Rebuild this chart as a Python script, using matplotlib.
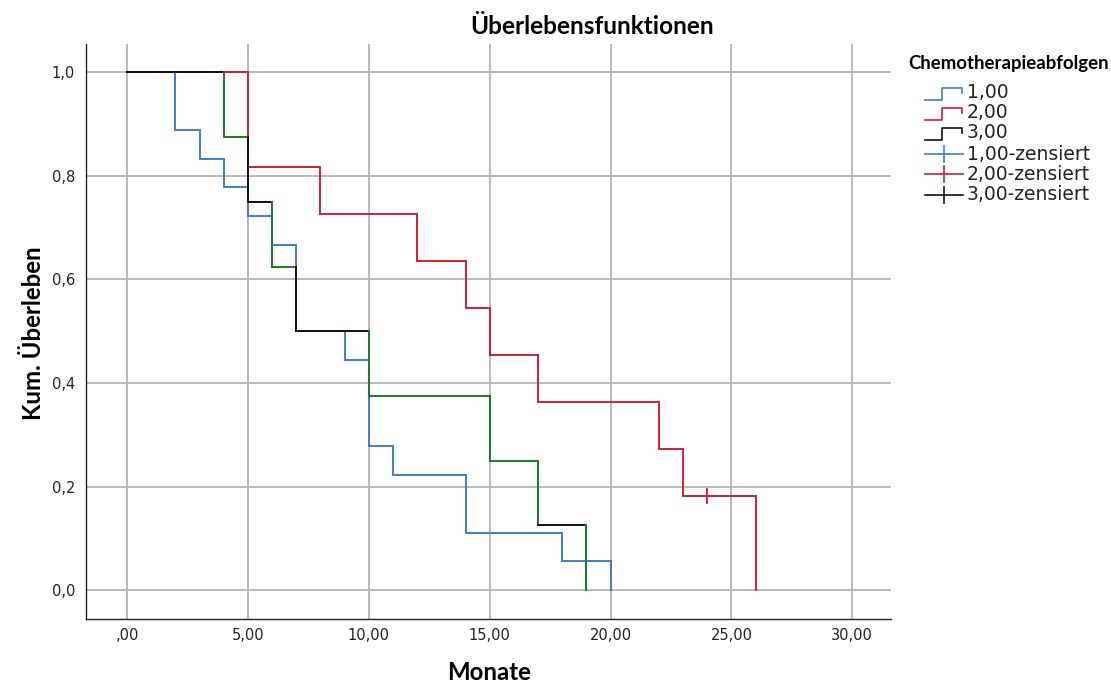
import matplotlib
matplotlib.use("Agg")
import matplotlib.pyplot as plt
from matplotlib.collections import LineCollection
from matplotlib.lines import Line2D

# Kaplan-Meier survival estimates per therapy sequence (event times in months)
times_1 = [0, 2, 3, 4, 5, 6, 7, 9, 10, 11, 14, 18, 20]
surv_1 = [1.0, 0.889, 0.833, 0.778, 0.722, 0.667, 0.5, 0.444, 0.278, 0.222, 0.111, 0.056, 0.0]

times_2 = [0, 5, 8, 12, 14, 15, 17, 22, 23, 26]
surv_2 = [1.0, 0.818, 0.727, 0.636, 0.545, 0.455, 0.364, 0.273, 0.182, 0.0]
censored_2_t = [24]
censored_2_s = [0.182]

times_3 = [0, 4, 5, 6, 7, 10, 15, 17, 19]
surv_3 = [1.0, 0.875, 0.75, 0.625, 0.5, 0.375, 0.25, 0.125, 0.0]

group_labels = ["1,00", "2,00", "3,00"]
censor_labels = ["1,00-zensiert", "2,00-zensiert", "3,00-zensiert"]
x_ticks = [0, 5, 10, 15, 20, 25, 30]
x_ticklabels = [",00", "5,00", "10,00", "15,00", "20,00", "25,00", "30,00"]
y_ticks = [0.0, 0.2, 0.4, 0.6, 0.8, 1.0]
y_ticklabels = ["0,0", "0,2", "0,4", "0,6", "0,8", "1,0"]

BLUE = "#3d7fcf"
RED = "#d21f33"
GREEN = "#1f7a25"
BLACK = "#111111"
LW = 1.4


def step_xy(t, s):
    xs, ys = [t[0]], [s[0]]
    for i in range(1, len(t)):
        xs += [t[i], t[i]]
        ys += [s[i - 1], s[i]]
    return xs, ys


def step_segments(t, s):
    """Return (segment, kind, start_time) for each flat and drop piece."""
    segs = []
    for i in range(1, len(t)):
        segs.append(([(t[i - 1], s[i - 1]), (t[i], s[i - 1])], "flat", t[i - 1]))
        segs.append(([(t[i], s[i - 1]), (t[i], s[i])], "drop", t[i]))
    return segs


W, H = 1111, 684
fig = plt.figure(figsize=(W / 100, H / 100), dpi=100)
ax = fig.add_axes([86 / W, 1 - 619 / H, (891 - 86) / W, (619 - 44) / H])

ax.set_xlim(-1.70, 31.6)
ax.set_ylim(-0.056, 1.055)

# grid
ax.set_xticks(x_ticks)
ax.set_yticks(y_ticks)
ax.grid(True, color="#b4b4b4", linewidth=1.3)
ax.set_axisbelow(True)
for side in ("top", "right"):
    ax.spines[side].set_visible(False)
for side in ("left", "bottom"):
    ax.spines[side].set_color("#222222")
    ax.spines[side].set_linewidth(1.0)
ax.tick_params(length=0, labelsize=10.5, labelcolor="#222222", pad=8)
ax.set_xticklabels(x_ticklabels)
ax.set_yticklabels(y_ticklabels)
ax.tick_params(axis="x", pad=6.5)

# survival curves
x1, y1 = step_xy(times_1, surv_1)
ax.plot(x1, y1, color=BLUE, lw=LW, solid_joinstyle="miter")
x2, y2 = step_xy(times_2, surv_2)
ax.plot(x2, y2, color=RED, lw=LW, solid_joinstyle="miter")
ax.plot(censored_2_t, censored_2_s, marker="+", color=RED, ms=11, mew=1.3, ls="none")

# third curve: drawn piecewise, some pieces rendered in green
green_drops = [4, 6, 10, 15, 17, 19]
green_flats = [4, 6, 10, 15]
segs3 = step_segments(times_3, surv_3)
lines3, cols3 = [], []
for seg, kind, t0 in segs3:
    lines3.append(seg)
    is_green = (kind == "drop" and t0 in green_drops) or (kind == "flat" and t0 in green_flats)
    cols3.append(GREEN if is_green else BLACK)
ax.add_collection(LineCollection(lines3, colors=cols3, linewidths=LW, capstyle="projecting"))

# titles
fig.text(592 / W, 1 - 27 / H, "Überlebensfunktionen", ha="center", va="center",
         fontsize=17.6, fontweight="bold", family="Lato")
fig.text(489 / W, 1 - 673 / H, "Monate", ha="center", va="center",
         fontsize=17.3, fontweight="bold", family="Lato")
fig.text(34 / W, 1 - 333 / H, "Kum. Überleben", ha="center", va="center", rotation=90,
         fontsize=17.3, fontweight="bold", family="Lato")

# legend
fig.text(908 / W, 1 - 63 / H, "Chemotherapieabfolgen", ha="left", va="center",
         fontsize=13.4, fontweight="bold", family="Lato")
row_y = [93, 113, 133, 154, 174, 195]
cols = [BLUE, RED, BLACK]
for i in range(3):
    yc = row_y[i]
    xs = [925, 942, 942, 962, 962]
    ys = [yc + 7, yc + 7, yc - 5, yc - 5, yc]
    fig.add_artist(Line2D([v / W for v in xs], [1 - v / H for v in ys],
                          transform=fig.transFigure, color=cols[i], lw=1.2))
    fig.text(967 / W, 1 - yc / H, group_labels[i], ha="left", va="center",
             fontsize=13.5, color="#222222")
for i in range(3):
    yc = row_y[3 + i]
    fig.add_artist(Line2D([925 / W, 963 / W], [1 - yc / H, 1 - yc / H],
                          transform=fig.transFigure, color=cols[i], lw=1.2))
    fig.add_artist(Line2D([944 / W, 944 / W], [1 - (yc - 8) / H, 1 - (yc + 8) / H],
                          transform=fig.transFigure, color=cols[i], lw=1.2))
    fig.text(967 / W, 1 - yc / H, censor_labels[i], ha="left", va="center",
             fontsize=13.5, color="#222222")

fig.savefig("out.png", dpi=100)
